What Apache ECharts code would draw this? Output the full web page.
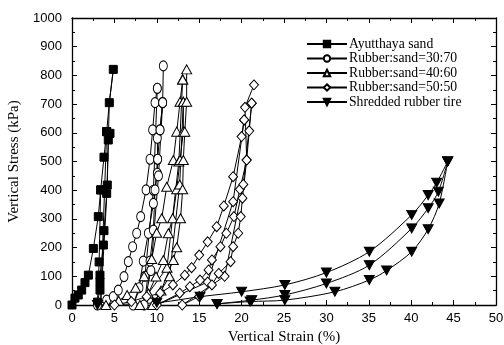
<!DOCTYPE html>
<html><head><meta charset="utf-8">
<script src="https://cdn.jsdelivr.net/npm/echarts@6/dist/echarts.min.js"></script>
<style>html,body{margin:0;padding:0;background:#fff}#c{width:504px;height:345px}</style>
</head><body><div id="c"></div>
<script>
// ---- data ----
const xTicks = [0,5,10,15,20,25,30,35,40,45,50];
const yTicks = [0,100,200,300,400,500,600,700,800,900,1000];
const seriesNames = ["Ayutthaya sand","Rubber:sand=30:70","Rubber:sand=40:60","Rubber:sand=50:50","Shredded rubber tire"];

const sandA = [[0,0],[0.35,24],[0.74,35],[1.14,52],[1.53,78],[1.93,104],[2.52,197],[3.10,308],[3.38,401],[3.77,515],[4.09,604],[4.40,705],[4.87,821]];
const sandB = [[3.38,401],[3.2,150],[3.0,10],[3.3,52],[3.3,80],[3.3,104],[3.70,209],[3.77,259],[4.09,389],[4.16,418],[4.28,575],[4.48,598],[4.09,604]];
const sandC = [[4.09,604],[3.6,200],[3.4,20],[3.6,120],[4.1,380],[4.4,705],[4.87,821]];

const r30A = [[3.0,0],[4.09,17],[4.87,29],[5.46,52],[6.13,99],[6.64,151],[7.15,203],[7.63,250],[8.10,308],[8.73,401],[9.20,508],[9.51,610],[9.79,705],[10.06,755]];
const r30B = [[10.06,755],[9.6,400],[8.6,100],[7.2,0],[7.9,60],[8.40,153],[9.00,250],[9.60,354],[10.06,459],[10.10,508],[10.06,581],[10.38,610],[10.69,705]];
const r30C = [[10.69,705],[10.2,450],[9.3,120],[8.5,0],[9.2,153],[9.60,261],[9.79,401],[10.10,508],[10.38,610],[10.69,705],[10.77,833]];

const r40A = [[4.0,0],[5.5,15],[6.5,35],[7.5,60],[8.5,100],[9.4,160],[9.99,252],[10.58,302],[11.17,412],[11.95,505],[12.35,604],[12.74,708],[13.05,786]];
const r40B = [[13.05,786],[12.6,500],[11.2,130],[8.0,0],[9.0,40],[9.9,99],[10.77,157],[11.36,250],[11.87,302],[12.35,403],[12.74,505],[13.13,604],[13.13,708]];
const r40C = [[13.13,708],[12.7,420],[11.5,100],[9.5,0],[10.5,50],[11.95,157],[12.35,201],[12.80,302],[13.05,403],[13.13,505],[13.30,604],[13.52,708],[13.52,821]];

const r50A = [[5.0,0],[7.0,12],[8.8,29],[10.4,41],[11.9,70],[13.3,104],[14.1,130],[15.0,174],[16.0,220],[17.06,273],[17.9,345],[19.0,447],[20.0,587],[20.3,645]];
const r50B = [[20.3,645],[19.0,360],[16.0,80],[10.0,0],[12.7,41],[13.9,64],[15.1,87],[16.1,122],[16.5,157],[17.5,203],[18.2,250],[19.1,308],[19.8,403],[20.6,505],[20.9,607],[21.19,703]];
const r50C = [[21.19,703],[20.2,420],[18.0,100],[13.0,0],[15.0,30],[16.5,70],[17.3,110],[18.7,151],[19.0,203],[19.6,250],[19.9,308],[20.1,372],[20.6,505],[20.4,689],[21.46,767]];

const tireA = [[3.0,0],[10.0,8],[15.1,29],[20.0,46],[25.1,70],[30.0,113],[35.06,186],[40.06,314],[42.0,383],[43.0,426],[44.3,500]];
const tireB = [[44.3,500],[43.3,354],[42.0,264],[40.06,186],[37.1,120],[35.06,87],[31.0,46],[25.1,17],[21.0,12],[17.1,4]];
const tireC = [[17.1,4],[21.2,17],[25.1,35],[30.0,75],[35.06,139],[40.06,267],[42.0,337],[43.2,395],[44.3,500]];

// ---- chart ----
const chart = echarts.init(document.getElementById('c'), null, {renderer:'canvas'});
const serif = 'Liberation Serif';
const sans = 'Liberation Sans';

const hollow = {color:'#fff', borderColor:'#000', borderWidth:1};
const filled = {color:'#000', borderColor:'#000', borderWidth:1};
const downTri = 'path://M0,0 L10,0 L5,9 Z';

function mk(name, data, symbol, size, style, smooth){
  return {type:'line', name:name, data:data, symbol:symbol, symbolSize:size,
    showAllSymbol:true, smooth:smooth||false, itemStyle:style,
    lineStyle:{color:'#000', width:1}, z: 3, animation:false};
}

const series = [
  mk(seriesNames[0], sandA, 'rect', 8, filled),
  mk(seriesNames[0], sandB, 'rect', 8, filled),
  mk(seriesNames[0], sandC, 'none', 8, filled),
  mk(seriesNames[1], r30A, 'circle', [8,10], hollow),
  mk(seriesNames[1], r30B, 'circle', [8,10], hollow),
  mk(seriesNames[1], r30C, 'circle', [8,10], hollow),
  mk(seriesNames[2], r40A, 'triangle', [10,9], hollow),
  mk(seriesNames[2], r40B, 'triangle', [10,9], hollow),
  mk(seriesNames[2], r40C, 'triangle', [10,9], hollow),
  mk(seriesNames[3], r50A, 'diamond', [9,10], hollow),
  mk(seriesNames[3], r50B, 'diamond', [9,10], hollow),
  mk(seriesNames[3], r50C, 'diamond', [9,10], hollow),
  mk(seriesNames[4], tireA, downTri, [10,9], filled, 0.3),
  mk(seriesNames[4], tireB, downTri, [10,9], filled, 0.3),
  mk(seriesNames[4], tireC, downTri, [10,9], filled, 0.3)
];

const axisCommon = {
  axisLine:{show:true, onZero:false, lineStyle:{color:'#000', width:1.3}},
  axisTick:{show:true, inside:true, length:5, lineStyle:{color:'#000', width:1}},
  minorTick:{show:true, splitNumber:2, length:3, lineStyle:{color:'#000', width:1}},
  splitLine:{show:false}
};
const plain = v => String(v);

chart.setOption({
  animation:false,
  backgroundColor:'#fff',
  grid:{left:72, right:8, top:18, bottom:40, containLabel:false, outerBoundsMode:'none'},
  legend:{
    data: seriesNames.map(n=>({name:n})),
    orient:'vertical', left:306, top:37, padding:0,
    itemWidth:40, itemHeight:8, itemGap:0.5,
    textStyle:{fontFamily:serif, fontSize:13.7, color:'#000', padding:[0,0,0,-3], lineHeight:12}
  },
  xAxis:[
    Object.assign({type:'value', min:0, max:50, interval:5, position:'bottom',
      name:'Vertical Strain (%)', nameLocation:'middle', nameGap:16,
      nameTextStyle:{fontFamily:serif, fontSize:15, color:'#000'},
      axisLabel:{fontFamily:sans, fontSize:13, color:'#000', margin:7, formatter:plain}}, axisCommon),
    Object.assign({type:'value', min:0, max:50, interval:5, position:'top',
      axisLabel:{show:false}}, axisCommon)
  ],
  yAxis:[
    Object.assign({type:'value', min:0, max:1000, interval:100, position:'left',
      name:'Vertical Stress (kPa)', nameLocation:'middle', nameGap:50,
      nameTextStyle:{fontFamily:serif, fontSize:15, color:'#000'},
      axisLabel:{fontFamily:sans, fontSize:13, color:'#000', margin:10, formatter:plain}}, axisCommon),
    Object.assign({type:'value', min:0, max:1000, interval:100, position:'right',
      axisLabel:{show:false}}, axisCommon)
  ],
  series: series
});
</script>
</body></html>
